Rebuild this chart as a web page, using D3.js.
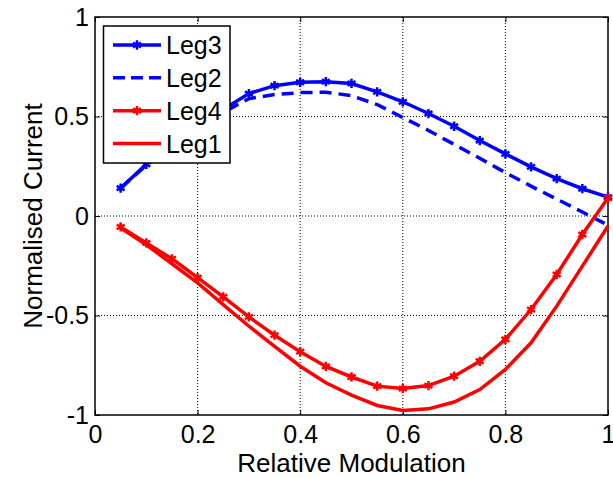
<!DOCTYPE html>
<html>
<head>
<meta charset="utf-8">
<script src="https://cdn.jsdelivr.net/npm/d3@7"></script>
<style>
  body { margin: 0; background: #fff; }
  text { font-family: "Liberation Sans", Arial, sans-serif; fill: #000; }
</style>
</head>
<body>
<div id="chart"></div>
<script>
// data
var xs = [0.05, 0.1, 0.15, 0.2, 0.25, 0.3, 0.35, 0.4, 0.45, 0.5,
          0.55, 0.6, 0.65, 0.7, 0.75, 0.8, 0.85, 0.9, 0.95, 1.0];
var leg3 = [0.14, 0.26, 0.36, 0.45, 0.535, 0.615, 0.655, 0.672, 0.675, 0.666,
            0.624, 0.574, 0.515, 0.451, 0.379, 0.312, 0.247, 0.188, 0.137, 0.095];
var leg2 = [0.14, 0.255, 0.355, 0.44, 0.52, 0.59, 0.61, 0.62, 0.622, 0.605,
            0.56, 0.495, 0.43, 0.36, 0.29, 0.218, 0.15, 0.085, 0.02, -0.046];
var leg4 = [-0.055, -0.135, -0.215, -0.31, -0.406, -0.507, -0.599, -0.682, -0.756, -0.809,
            -0.855, -0.867, -0.852, -0.805, -0.73, -0.62, -0.47, -0.294, -0.093, 0.09];
var leg1 = [-0.06, -0.145, -0.24, -0.336, -0.445, -0.554, -0.655, -0.755, -0.838, -0.9,
            -0.952, -0.977, -0.969, -0.935, -0.872, -0.771, -0.637, -0.453, -0.252, -0.05];
var xTicks = [0, 0.2, 0.4, 0.6, 0.8, 1];
var yTicks = [-1, -0.5, 0, 0.5, 1];
var xTickLabels = ["0", "0.2", "0.4", "0.6", "0.8", "1"];
var yTickLabels = ["-1", "-0.5", "0", "0.5", "1"];
var legendNames = ["Leg3", "Leg2", "Leg4", "Leg1"];

var width = 613, height = 478;
var plotLeft = 95, plotRight = 608, plotTop = 17, plotBottom = 415;

var series = [
  {name: "Leg3", values: leg3, color: "#0000ff", dash: null, marker: true},
  {name: "Leg2", values: leg2, color: "#0000ff", dash: "12,7", marker: false},
  {name: "Leg4", values: leg4, color: "#ff0000", dash: null, marker: true},
  {name: "Leg1", values: leg1, color: "#ff0000", dash: null, marker: false}
];

var svg = d3.select("#chart").append("svg")
    .attr("width", width)
    .attr("height", height);

var x = d3.scaleLinear().domain([0, 1]).range([plotLeft, plotRight]);
var y = d3.scaleLinear().domain([-1, 1]).range([plotBottom, plotTop]);

// grid
svg.append("g").selectAll("line")
    .data(xTicks.slice(1, -1))
    .enter().append("line")
    .attr("x1", function (d) { return x(d); })
    .attr("x2", function (d) { return x(d); })
    .attr("y1", plotTop).attr("y2", plotBottom)
    .attr("stroke", "#000").attr("stroke-width", 1)
    .attr("stroke-dasharray", "1,2");

svg.append("g").selectAll("line")
    .data(yTicks.slice(1, -1))
    .enter().append("line")
    .attr("y1", function (d) { return y(d); })
    .attr("y2", function (d) { return y(d); })
    .attr("x1", plotLeft).attr("x2", plotRight)
    .attr("stroke", "#000").attr("stroke-width", 1)
    .attr("stroke-dasharray", "1,2");

// axes
var xAxis = svg.append("g")
    .attr("transform", "translate(0," + plotBottom + ")")
    .call(d3.axisBottom(x).tickValues(xTicks).tickSize(-5).tickPadding(10)
        .tickFormat(function (d, i) { return xTickLabels[i]; }));
var yAxis = svg.append("g")
    .attr("transform", "translate(" + plotLeft + ",0)")
    .call(d3.axisLeft(y).tickValues(yTicks).tickSize(-5).tickPadding(6)
        .tickFormat(function (d, i) { return yTickLabels[i]; }));
svg.append("g")
    .attr("transform", "translate(0," + plotTop + ")")
    .call(d3.axisTop(x).tickValues(xTicks).tickSize(-5).tickFormat(""));
svg.append("g")
    .attr("transform", "translate(" + plotRight + ",0)")
    .call(d3.axisRight(y).tickValues(yTicks).tickSize(-5).tickFormat(""));

svg.selectAll(".domain").attr("stroke", "none");
svg.selectAll(".tick line").attr("stroke", "#000");
svg.selectAll(".tick text")
    .style("font-size", "25px")
    .style("font-family", "'Liberation Sans', Arial, sans-serif")
    .attr("fill", "#000");
xAxis.selectAll(".tick text").attr("dy", "0.71em");

svg.append("rect")
    .attr("x", plotLeft).attr("y", plotTop)
    .attr("width", plotRight - plotLeft).attr("height", plotBottom - plotTop)
    .attr("fill", "none").attr("stroke", "#000").attr("stroke-width", 1.5);

// lines
var line = d3.line()
    .x(function (d, i) { return x(xs[i]); })
    .y(function (d) { return y(d); });

var star = d3.symbol().type(d3.symbolAsterisk).size(60);

series.forEach(function (s) {
    svg.append("path")
        .datum(s.values)
        .attr("d", line)
        .attr("fill", "none")
        .attr("stroke", s.color)
        .attr("stroke-width", 3.5)
        .attr("stroke-dasharray", s.dash);
    if (s.marker) {
        svg.append("g").selectAll("path")
            .data(s.values)
            .enter().append("path")
            .attr("d", star)
            .attr("transform", function (d, i) {
                return "translate(" + x(xs[i]) + "," + y(d) + ")";
            })
            .attr("fill", "none")
            .attr("stroke", s.color)
            .attr("stroke-width", 2.5);
    }
});

// legend
var legend = svg.append("g");
legend.append("rect")
    .attr("x", 103.5).attr("y", 26)
    .attr("width", 126.5).attr("height", 137)
    .attr("fill", "#fff").attr("stroke", "#000").attr("stroke-width", 1.5);

var legY = d3.scalePoint().domain(legendNames).range([45, 143.5]);

series.forEach(function (s) {
    var ly = legY(s.name);
    legend.append("line")
        .attr("x1", 113).attr("x2", 161)
        .attr("y1", ly).attr("y2", ly)
        .attr("stroke", s.color)
        .attr("stroke-width", 3.5)
        .attr("stroke-dasharray", s.dash ? "12,6" : null);
    if (s.marker) {
        legend.append("path")
            .attr("d", star)
            .attr("transform", "translate(137," + ly + ")")
            .attr("fill", "none")
            .attr("stroke", s.color)
            .attr("stroke-width", 2.5);
    }
    legend.append("text")
        .attr("x", 166).attr("y", ly)
        .attr("dy", "0.36em")
        .style("font-size", "25px")
        .text(s.name);
});

// axis titles
svg.append("text")
    .attr("x", (plotLeft + plotRight) / 2)
    .attr("y", 472)
    .attr("text-anchor", "middle")
    .style("font-size", "26px")
    .text("Relative Modulation");

svg.append("text")
    .attr("transform", "translate(42," + ((plotTop + plotBottom) / 2) + ") rotate(-90)")
    .attr("text-anchor", "middle")
    .style("font-size", "26px")
    .text("Normalised Current");
</script>
</body>
</html>
